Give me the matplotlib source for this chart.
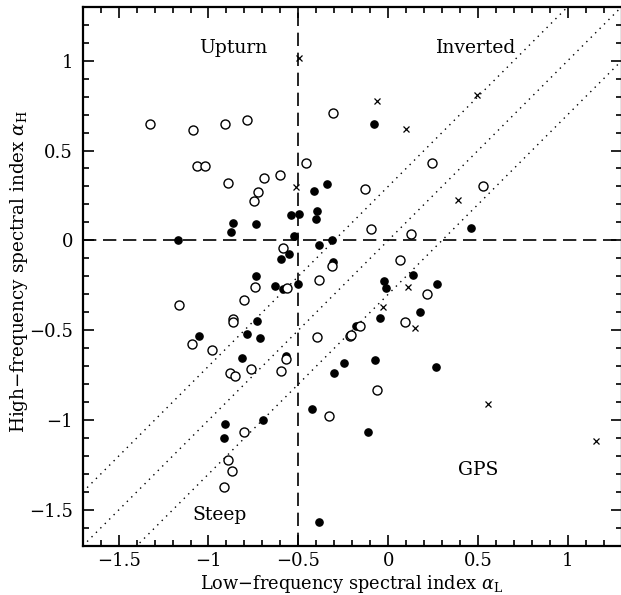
import matplotlib
matplotlib.use("Agg")
import matplotlib.pyplot as plt
from matplotlib.ticker import MultipleLocator, FuncFormatter

plt.rcParams['font.family'] = ['DejaVu Serif']
plt.rcParams['mathtext.fontset'] = 'dejavuserif'

# filled dots
full_x = [-1.172, -0.872, -0.861, -0.733, -0.539, -0.498, -0.522, -0.552, -0.596, -0.737,
          -0.415, -0.396, -0.400, -0.387, -0.632, -0.585, -0.502, -0.076, -0.339, 0.463,
          -0.313, -0.309, 0.137, -0.024, -0.011, 0.270, -0.732, -1.052, -0.787, -0.711,
          -0.815, -0.567, -0.422, -0.694, -0.906, -0.915, -0.387, 0.176, -0.043, -0.180,
          -0.163, -0.246, -0.304, -0.074, 0.269, -0.111]
full_y = [0.000, 0.048, 0.098, 0.091, 0.141, 0.148, 0.024, -0.078, -0.106, -0.199,
          0.275, 0.162, 0.117, -0.026, -0.255, -0.271, -0.240, 0.650, 0.314, 0.067,
          0.000, -0.121, -0.195, -0.227, -0.264, -0.243, -0.448, -0.531, -0.520, -0.542,
          -0.654, -0.645, -0.940, -0.999, -1.023, -1.100, -1.565, -0.399, -0.429, -0.476,
          -0.474, -0.684, -0.736, -0.663, -0.702, -1.064]

# open circles
open_x = [-1.326, -1.085, -0.909, -0.783, -1.065, -1.022, -0.894, -0.689, -0.602, -0.724,
          -0.748, -0.459, -0.583, -0.743, -0.563, -0.387, -0.307, 0.243, -0.130, 0.526,
          -0.096, 0.126, 0.065, -0.315, 0.219, -1.163, -0.804, -0.861, -0.861, -1.089,
          -0.983, -0.567, -0.882, -0.850, -0.761, -0.596, -0.802, -0.893, -0.871, -0.915,
          -0.396, 0.094, -0.154, -0.215, -0.209, -0.061, -0.330]
open_y = [0.646, 0.614, 0.650, 0.672, 0.412, 0.412, 0.321, 0.347, 0.364, 0.267,
          0.217, 0.431, -0.045, -0.262, -0.266, -0.221, 0.709, 0.431, 0.286, 0.301,
          0.063, 0.037, -0.108, -0.145, -0.299, -0.360, -0.333, -0.438, -0.453, -0.576,
          -0.607, -0.661, -0.735, -0.754, -0.715, -0.728, -1.066, -1.224, -1.281, -1.374,
          -0.539, -0.453, -0.476, -0.531, -0.526, -0.830, -0.979]

# crosses
cross_x = [-0.498, -0.511, -0.061, 0.102, 0.493, 0.391, 0.111, -0.026, 0.148, 0.557, 1.159]
cross_y = [1.014, 0.297, 0.778, 0.622, 0.810, 0.225, -0.262, -0.372, -0.487, -0.910, -1.118]

offsets = [0.3, 0.0, -0.3]

fig = plt.figure(figsize=(6.21, 5.95), dpi=100)
ax = fig.add_axes([82.7 / 621, 49 / 595, 539 / 621, 539.3 / 595])
ax.set_xlim(-1.7, 1.3)
ax.set_ylim(-1.7, 1.3)

ax.axvline(-0.5, color='black', lw=1.2, dashes=(8, 4))
ax.axhline(0.0, color='black', lw=1.2, dashes=(8, 4))
for c in offsets:
    ax.plot([-1.7, 1.3], [-1.7 + c, 1.3 + c], color='black', lw=1.0, ls=(0, (1, 3.5)))

ax.plot(full_x, full_y, 'o', color='black', ms=5.2, mec='black')
ax.plot(open_x, open_y, 'o', mfc='white', mec='black', ms=6.5, mew=1.0)
ax.plot(cross_x, cross_y, 'x', color='black', ms=3.8, mew=0.9)

ax.text(-0.86, 1.07, 'Upturn', ha='center', va='center', fontsize=13.5)
ax.text(0.49, 1.07, 'Inverted', ha='center', va='center', fontsize=13.5)
ax.text(0.50, -1.28, 'GPS', ha='center', va='center', fontsize=13.5)
ax.text(-0.94, -1.53, 'Steep', ha='center', va='center', fontsize=13.5)

fig.text(352 / 621, 1 - 584 / 595, r'Low$-$frequency spectral index $\alpha_{\rm L}$',
         ha='center', va='center', fontsize=12.8)
fig.text(19 / 621, 1 - 272 / 595, r'High$-$frequency spectral index $\alpha_{\rm H}$',
         ha='center', va='center', rotation=90, fontsize=13.2)

fmt = FuncFormatter(lambda v, p: ('%g' % v).replace('-', '\u2212'))
for a in (ax.xaxis, ax.yaxis):
    a.set_major_locator(MultipleLocator(0.5))
    a.set_minor_locator(MultipleLocator(0.1))
    a.set_major_formatter(fmt)
ax.tick_params(which='both', direction='in', top=True, right=True, width=1.2, labelsize=13)
ax.tick_params(which='major', length=8, pad=7)
ax.tick_params(axis='x', which='major', pad=4)
ax.tick_params(which='minor', length=4)
for s in ax.spines.values():
    s.set_linewidth(1.6)

fig.savefig('out.png', dpi=100)
